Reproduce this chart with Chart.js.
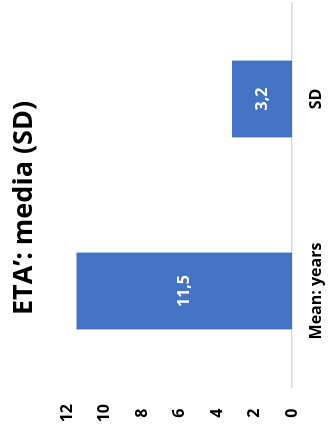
<!DOCTYPE html>
<html>
<head>
<meta charset="utf-8">
<script src="https://cdn.jsdelivr.net/npm/chart.js@4"></script>
<style>
  html, body { margin: 0; padding: 0; background: #fff; overflow: hidden; }
  #wrap {
    position: absolute; left: 0; top: 0;
    width: 432px; height: 328px;
    transform-origin: 0 0;
    transform: translate(0, 432px) rotate(-90deg);
  }
</style>
</head>
<body>
<div id="wrap"><canvas id="chart" width="432" height="328"></canvas></div>
<script>
var categories = ['Mean: years', 'SD'];
var values = [11.5, 3.2];
var valueLabels = ['11,5', '3,2'];
var titleText = 'ETA\u2019: media (SD)';

var fontFamily = '"Open Sans", sans-serif';

// writes the value in the middle of each bar
var barValues = {
    id: 'barValues',
    afterDatasetsDraw: function(chart) {
        var ctx = chart.ctx;
        var meta = chart.getDatasetMeta(0);
        ctx.save();
        ctx.fillStyle = '#fff';
        ctx.font = 'bold 16px ' + fontFamily;
        ctx.textAlign = 'center';
        ctx.textBaseline = 'middle';
        meta.data.forEach(function(bar, i) {
            var mid = (bar.y + bar.base) / 2;
            ctx.fillText(valueLabels[i], bar.x, mid);
        });
        ctx.restore();
    }
};

// heading sits a little left of the plot centre, so it is drawn by hand
var heading = {
    id: 'heading',
    afterDraw: function(chart) {
        var ctx = chart.ctx;
        ctx.save();
        ctx.fillStyle = '#000';
        ctx.font = 'bold 27px ' + fontFamily;
        ctx.textAlign = 'center';
        ctx.textBaseline = 'middle';
        ctx.fillText(titleText, 224, 24);
        ctx.restore();
    }
};

new Chart(document.getElementById('chart'), {
    type: 'bar',
    data: {
        labels: categories,
        datasets: [{
            data: values,
            backgroundColor: '#4472C4',
            barPercentage: 0.5,
            categoryPercentage: 0.8
        }]
    },
    options: {
        responsive: false,
        animation: false,
        layout: { padding: { left: 0, right: 3, top: 67, bottom: 0 } },
        plugins: {
            legend: { display: false },
            tooltip: { enabled: false },
            title: { display: false }
        },
        scales: {
            x: {
                grid: { display: false, drawTicks: false },
                border: { display: true, color: '#D9D9D9', width: 1.5 },
                ticks: {
                    color: '#000',
                    padding: 15,
                    font: { family: fontFamily, size: 16, weight: 'bold' }
                },
                afterFit: function(scale) { scale.height = 36; }
            },
            y: {
                min: 0,
                max: 12,
                grid: { display: false, drawTicks: false },
                border: { display: false },
                ticks: {
                    stepSize: 2,
                    color: '#000',
                    padding: 17,
                    crossAlign: 'center',
                    autoSkip: false,
                    font: { family: fontFamily, size: 16, weight: 'bold' }
                },
                afterFit: function(scale) { scale.width = 45; }
            }
        }
    },
    plugins: [barValues, heading]
});
</script>
</body>
</html>
